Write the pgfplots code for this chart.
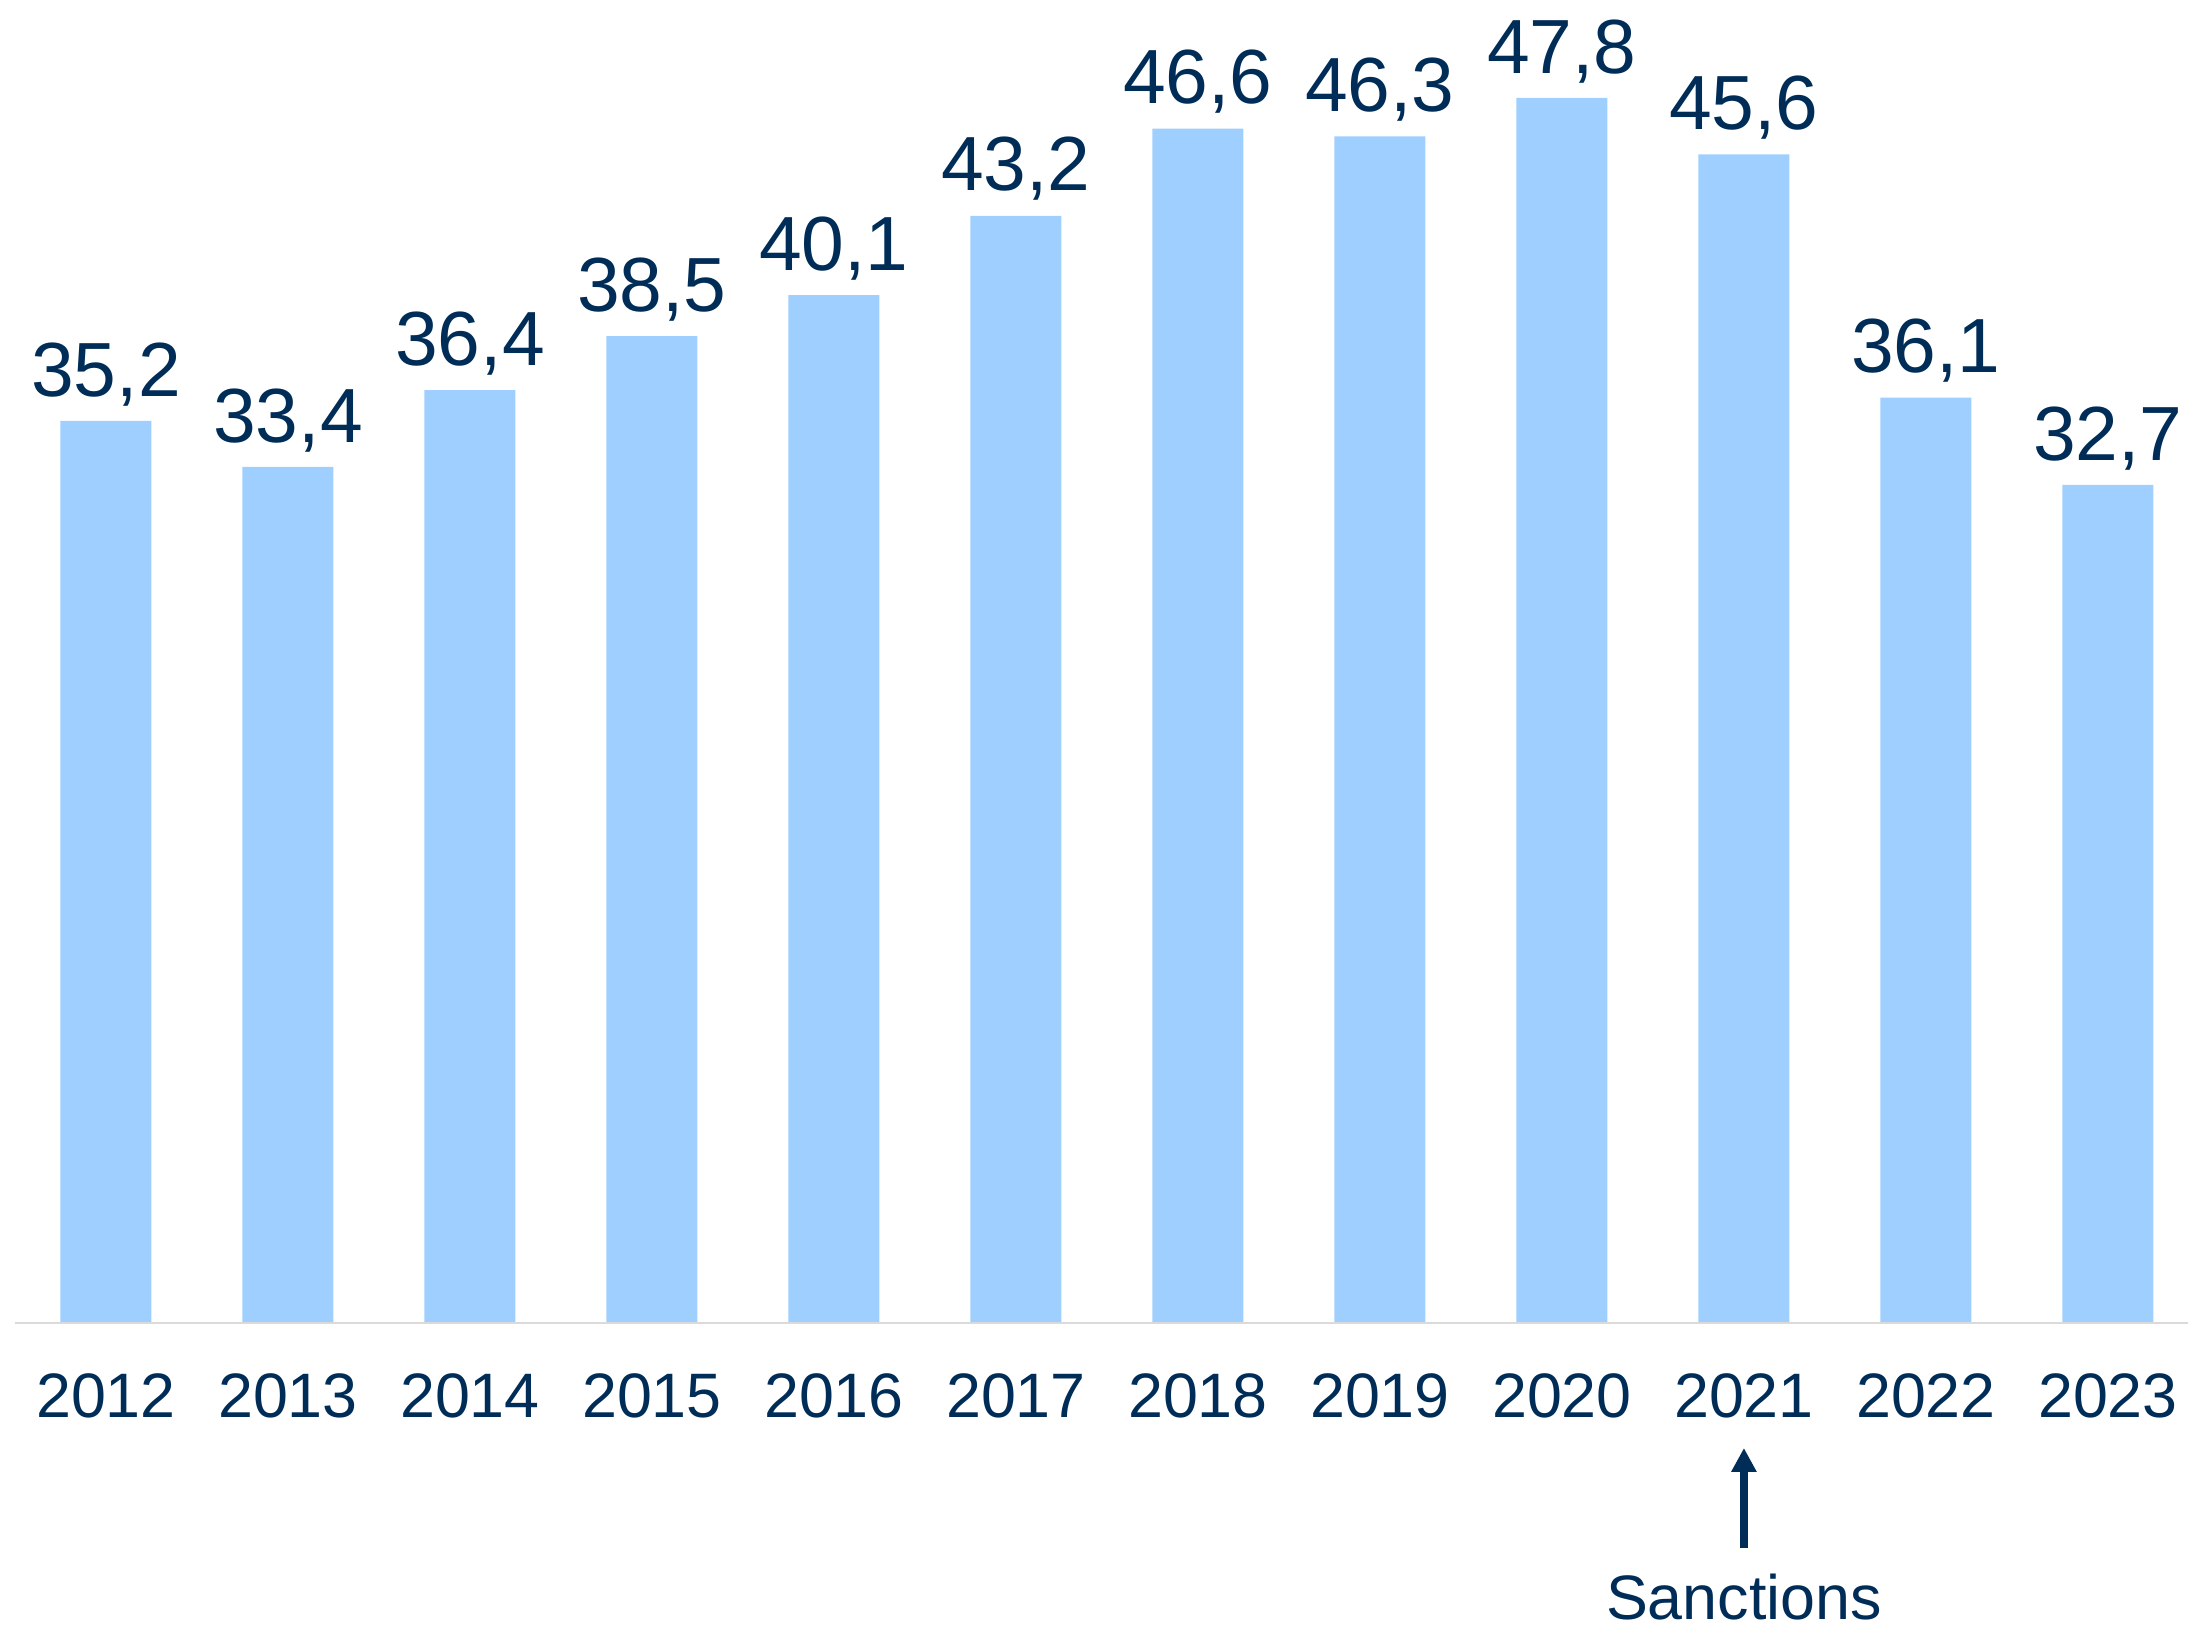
\documentclass[border=0pt]{standalone}
\usepackage{fontspec}
\setmainfont{Liberation Sans}
\usepackage{pgfplots}
\pgfplotsset{compat=1.18}
\usetikzlibrary{arrows.meta}
\definecolor{barblue}{HTML}{9ECFFE}
\definecolor{navy}{HTML}{002D57}
\definecolor{basegrey}{HTML}{DADADA}
\begin{document}
\begin{tikzpicture}
\useasboundingbox (0,0) rectangle (547pt,407pt);
\begin{axis}[
  at={(3.75pt,76.25pt)}, anchor=south west,
  scale only axis,
  width=543.25pt, height=320.375pt,
  xmin=-0.5, xmax=11.44, ymin=0, ymax=50,
  clip=false,
  axis line style={draw=none},
  ytick=\empty,
  xtick={0,...,11},
  xticklabels={2012,2013,2014,2015,2016,2017,2018,2019,2020,2021,2022,2023},
  major tick length=0pt,
  xticklabel style={anchor=base, inner sep=0pt, yshift=-23.75pt, font=\fontsize{15.7}{18}\selectfont, text=navy},
  ybar, bar width=22.75pt,
  nodes near coords,
  /pgf/number format/.cd, use comma, fixed, fixed zerofill, precision=1, assume math mode=true,
  /pgfplots/.cd,
  nodes near coords style={anchor=south, inner sep=0pt, text depth=0pt, yshift=6pt, font=\fontsize{19.2}{22}\selectfont, text=navy},
]
\addplot[fill=barblue, draw=none] coordinates {
 (0,35.2) (1,33.4) (2,36.4) (3,38.5) (4,40.1) (5,43.2)
 (6,46.6) (7,46.3) (8,47.8) (9,45.6) (10,36.1) (11,32.7)
};
\draw[basegrey, line width=0.35pt] (axis cs:-0.5,0) -- (axis cs:11.44,0);
\draw[navy, line width=2pt, -{Triangle[width=6pt,length=6pt]}] ([yshift=-56.25pt]axis cs:9,0) -- ([yshift=-31.25pt]axis cs:9,0);
\node[anchor=base, inner sep=0pt, text=navy, font=\fontsize{15.7}{18}\selectfont] at ([yshift=-74.25pt]axis cs:9,0) {Sanctions};
\end{axis}
\end{tikzpicture}
\end{document}
